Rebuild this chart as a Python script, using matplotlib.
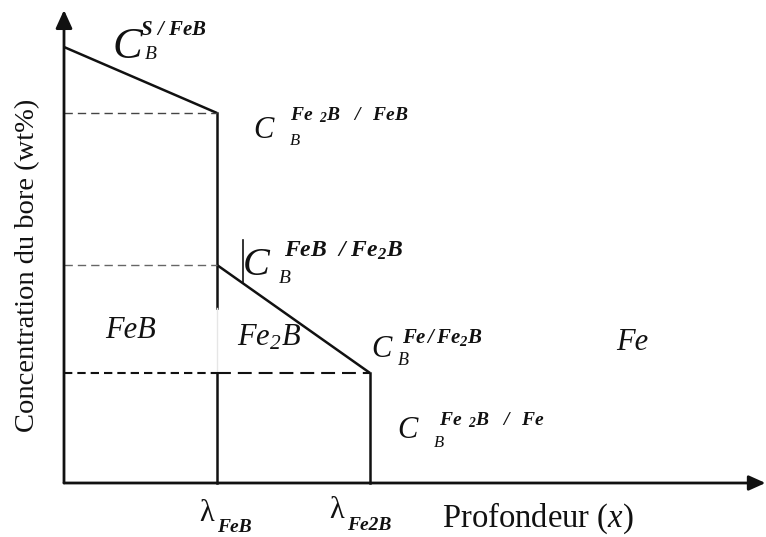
import matplotlib
matplotlib.use("Agg")
import matplotlib.pyplot as plt

plt.rcParams["font.family"] = ["Liberation Serif", "DejaVu Serif"]
plt.rcParams["mathtext.fontset"] = "custom"
plt.rcParams["mathtext.rm"] = "Liberation Serif:bold:italic"
plt.rcParams["mathtext.it"] = "Liberation Serif:bold:italic"
plt.rcParams["mathtext.bf"] = "Liberation Serif:bold:italic"
plt.rcParams["mathtext.sf"] = "Liberation Serif:italic"
plt.rcParams["lines.scale_dashes"] = False

# Layer boundaries (depth, arbitrary units)
lambda_feb = 1.0
lambda_fe2b = 2.0
x_max = 4.585

# Boron concentrations at the interfaces (arbitrary units)
c_surface = 4.36        # C_B^{S/FeB}
c_fe2b_feb = 3.70       # C_B^{Fe2B/FeB}
c_feb_fe2b = 2.18       # C_B^{FeB/Fe2B}
c_fe_fe2b = 1.10        # C_B^{Fe/Fe2B}
y_max = 4.73

# Concentration profile in each layer
feb_x = [0.0, lambda_feb]
feb_y = [c_surface, c_fe2b_feb]
fe2b_x = [lambda_feb, lambda_fe2b]
fe2b_y = [c_feb_fe2b, c_fe_fe2b]

# Where the boundary line at lambda_FeB fades out
fade_top = 1.75

fig = plt.figure(figsize=(7.66, 5.37), dpi=100)
ax = fig.add_axes([0, 0, 1, 1])
ax.set_xlim(-64 / 153, 702 / 153)
ax.set_ylim(-54 / 100, 483 / 100)
ax.axis("off")

lw = 1.8
k = "#111111"

# Axes with arrowheads
ax.annotate("", xy=(0, y_max), xytext=(0, 0), annotation_clip=False,
            arrowprops=dict(arrowstyle="-|>,head_length=1.1,head_width=0.5",
                            lw=2.0, color=k, shrinkA=0, shrinkB=0))
ax.annotate("", xy=(x_max, 0), xytext=(0, 0), annotation_clip=False,
            arrowprops=dict(arrowstyle="-|>,head_length=1.0,head_width=0.45",
                            lw=2.0, color=k, shrinkA=0, shrinkB=0))

# Profile segments
ax.plot(feb_x, feb_y, color=k, lw=lw, solid_capstyle="butt")
ax.plot(fe2b_x, fe2b_y, color=k, lw=lw, solid_capstyle="butt")

# Layer boundaries
ax.plot([lambda_feb, lambda_feb], [c_fe2b_feb, fade_top], color=k, lw=lw)
ax.plot([lambda_feb, lambda_feb], [fade_top, c_fe_fe2b], color="#e6e6e6", lw=1.0)
ax.plot([lambda_feb, lambda_feb], [c_fe_fe2b, 0], color=k, lw=lw)
ax.plot([lambda_fe2b, lambda_fe2b], [c_fe_fe2b, 0], color=k, lw=lw)

# Small marker near the FeB/Fe2B label
tick_x = 1.17
ax.plot([tick_x, tick_x], [2.01, 2.43], color=k, lw=1.2)

# Dashed reference levels
ax.plot([0, lambda_feb], [c_fe2b_feb, c_fe2b_feb], color="#444444", lw=1.0,
        linestyle=(0, (6, 3.6)))
ax.plot([0, lambda_feb], [c_feb_fe2b, c_feb_fe2b], color="#666666", lw=1.0,
        linestyle=(0, (6, 3.6)))
ax.plot([0, lambda_feb], [c_fe_fe2b, c_fe_fe2b], color=k, lw=1.5,
        linestyle=(0, (6, 3.6)))
ax.plot([lambda_feb, lambda_fe2b], [c_fe_fe2b, c_fe_fe2b], color=k, lw=1.5,
        linestyle=(0, (10, 5)))


def conc_label(x, y, c_size, sup, sub_dx, sup_dx, sup_dy, sub_dy, sub_size, sup_size):
    """Big italic C with subscript B and an interface superscript."""
    ax.text(x, y, "C", fontsize=c_size, style="italic", color=k,
            ha="left", va="baseline")
    ax.text(x + sub_dx, y + sub_dy, "B", fontsize=sub_size, style="italic",
            color=k, ha="left", va="baseline")
    ax.text(x + sup_dx, y + sup_dy, sup, fontsize=sup_size, color=k,
            ha="left", va="baseline")


# C_B^{S/FeB}
conc_label(0.32, 4.25, 32, r"$S\ /\ FeB$", 0.21, 0.18, 0.23, -0.01, 14, 15)
# C_B^{Fe2B/FeB}
conc_label(1.235, 3.45, 22, r"$Fe\ \,_{2}B\ \ \ /\ \ \,FeB$", 0.24, 0.24, 0.18, -0.07, 12, 14)
# C_B^{FeB/Fe2B}
conc_label(1.17, 2.08, 29, r"$FeB\ \ /\ Fe_{2}B$", 0.235, 0.265, 0.18, -0.08, 14, 17)
# C_B^{Fe/Fe2B}
conc_label(2.01, 1.26, 22, r"$Fe\,/\,Fe_{2}B$", 0.17, 0.2, 0.14, -0.08, 13, 15)
# C_B^{Fe2B/Fe}
conc_label(2.18, 0.45, 22, r"$Fe\ \,_{2}B\ \ \ /\ \ \,Fe$", 0.24, 0.27, 0.13, -0.09, 12, 14)

# Phase names
ax.text(0.27, 1.45, "FeB", fontsize=22, style="italic", color=k, ha="left", va="baseline")
ax.text(1.13, 1.38, r"$\mathsf{Fe_{2}B}$", fontsize=22, color=k, ha="left", va="baseline")
ax.text(3.61, 1.33, "Fe", fontsize=22, style="italic", color=k, ha="left", va="baseline")

# Depth markers
ax.text(0.885, -0.38, "λ", fontsize=22, color=k, ha="left", va="baseline")
ax.text(1.0, -0.49, "FeB", fontsize=14, style="italic", fontweight="bold",
        color=k, ha="left", va="baseline")
ax.text(1.735, -0.35, "λ", fontsize=22, color=k, ha="left", va="baseline")
ax.text(1.85, -0.47, "Fe2B", fontsize=14, style="italic", fontweight="bold",
        color=k, ha="left", va="baseline")

# Axis titles
ax.text(2.47, -0.44, r"Profondeur ($\mathsf{x}$)", fontsize=23.5, color=k,
        ha="left", va="baseline")
ax.text(-0.235, 2.18, "Concentration du bore (wt%)", fontsize=20.5, color=k,
        rotation=90, ha="center", va="center")

fig.savefig("out.png", dpi=100)
